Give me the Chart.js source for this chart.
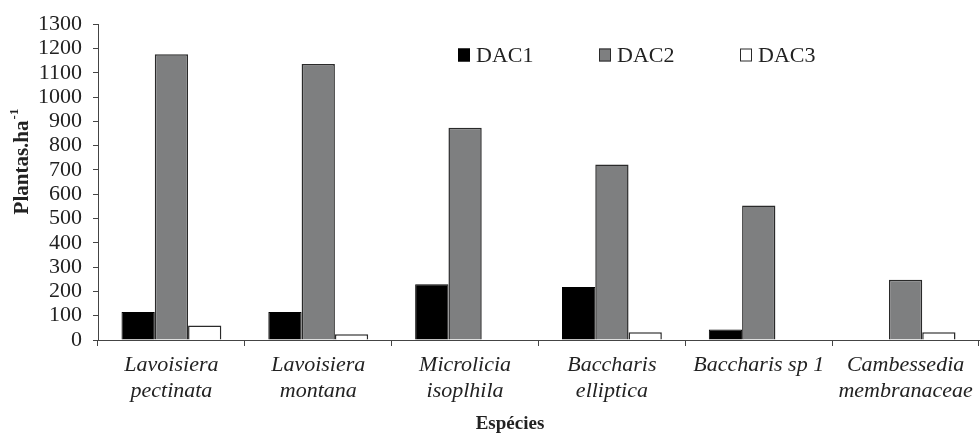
<!DOCTYPE html>
<html>
<head>
<meta charset="utf-8">
<script src="https://cdn.jsdelivr.net/npm/chart.js@4/dist/chart.umd.min.js"></script>
<style>
  html, body { margin: 0; padding: 0; background: #fff; }
  #wrap { width: 980px; height: 433px; position: relative; }
</style>
</head>
<body>
<div id="wrap"><canvas id="chart" width="980" height="433"></canvas></div>
<script>
// ─── Data ────────────────────────────────────────────
var categories = [
  ['Lavoisiera', 'pectinata'],
  ['Lavoisiera', 'montana'],
  ['Microlicia', 'isoplhila'],
  ['Baccharis', 'elliptica'],
  'Baccharis sp 1',
  ['Cambessedia', 'membranaceae']
];
var seriesNames = ['DAC1', 'DAC2', 'DAC3'];
var dac1 = [115, 115, 229, 218, 43, 0];
var dac2 = [1176, 1136, 874, 722, 554, 248];
var dac3 = [60, 24, 0, 32, 0, 32];
var yMax = 1300, yStep = 100;
var xTitle = 'Espécies';
var yTitle = 'Plantas.ha';
var yTitleSup = '-1';

var serif = "'Liberation Serif', 'Times New Roman', serif";
var ink = '#222';

// ─── Legend + axis titles (drawn on canvas) ──────────
var extrasPlugin = {
  id: 'extras',
  afterDraw: function(chart) {
    var ctx = chart.ctx;
    ctx.save();
    // legend
    ctx.font = '22px ' + serif;
    ctx.textBaseline = 'middle';
    ctx.textAlign = 'left';
    chart.data.datasets.forEach(function(ds, i) {
      var x = 458 + i * 141, y = 55;
      ctx.fillStyle = ds.backgroundColor;
      ctx.fillRect(x, y - 6.5, 12, 13);
      ctx.lineWidth = 1;
      ctx.strokeStyle = ds.borderColor;
      ctx.strokeRect(x + 0.5, y - 6, 11, 12);
      ctx.fillStyle = ink;
      ctx.fillText(ds.label, x + 18, y + 1);
    });
    // x title
    ctx.font = 'bold 19px ' + serif;
    ctx.textAlign = 'center';
    ctx.fillText(xTitle, 510, 424);
    // y title, rotated with superscript
    ctx.translate(20, 162);
    ctx.rotate(-Math.PI / 2);
    ctx.font = 'bold 21px ' + serif;
    var w1 = ctx.measureText(yTitle).width;
    ctx.font = 'bold 13px ' + serif;
    var w2 = ctx.measureText(yTitleSup).width;
    var start = -(w1 + w2) / 2;
    ctx.textAlign = 'left';
    ctx.font = 'bold 21px ' + serif;
    ctx.fillText(yTitle, start, 3);
    ctx.font = 'bold 13px ' + serif;
    ctx.fillText(yTitleSup, start + w1 + 1, -5);
    ctx.restore();
  }
};

// ─── Chart ───────────────────────────────────────────
var ctx = document.getElementById('chart').getContext('2d');
new Chart(ctx, {
  type: 'bar',
  data: {
    labels: categories,
    datasets: [
      { label: seriesNames[0], data: dac1, backgroundColor: '#000000', borderColor: '#000000', borderWidth: 1 },
      { label: seriesNames[1], data: dac2, backgroundColor: '#7e7f80', borderColor: '#2a2a2a', borderWidth: 1.5 },
      { label: seriesNames[2], data: dac3, backgroundColor: '#ffffff', borderColor: '#2a2a2a', borderWidth: 1.5 }
    ]
  },
  options: {
    responsive: false,
    animation: false,
    devicePixelRatio: 1,
    layout: { padding: { top: 24, right: 1, left: 0, bottom: 0 } },
    datasets: { bar: { barPercentage: 1, categoryPercentage: 0.68 } },
    plugins: { legend: { display: false }, tooltip: { enabled: false } },
    scales: {
      x: {
        grid: { drawOnChartArea: false, tickLength: 6, color: '#444', offset: true },
        border: { color: '#444', width: 1 },
        ticks: {
          color: ink, padding: 6, maxRotation: 0, autoSkip: false,
          font: { family: serif, size: 22, style: 'italic', lineHeight: 1.2 }
        },
        afterFit: function(s) { s.height = 93; }
      },
      y: {
        min: 0, max: yMax,
        grid: { drawOnChartArea: false, tickLength: 5, color: '#444' },
        border: { color: '#444', width: 1 },
        ticks: {
          stepSize: yStep, autoSkip: false, color: ink, padding: 11,
          font: { family: serif, size: 22 },
          callback: function(v) { return String(v); }
        },
        afterFit: function(s) { s.width = 98; }
      }
    }
  },
  plugins: [extrasPlugin]
});
</script>
</body>
</html>
